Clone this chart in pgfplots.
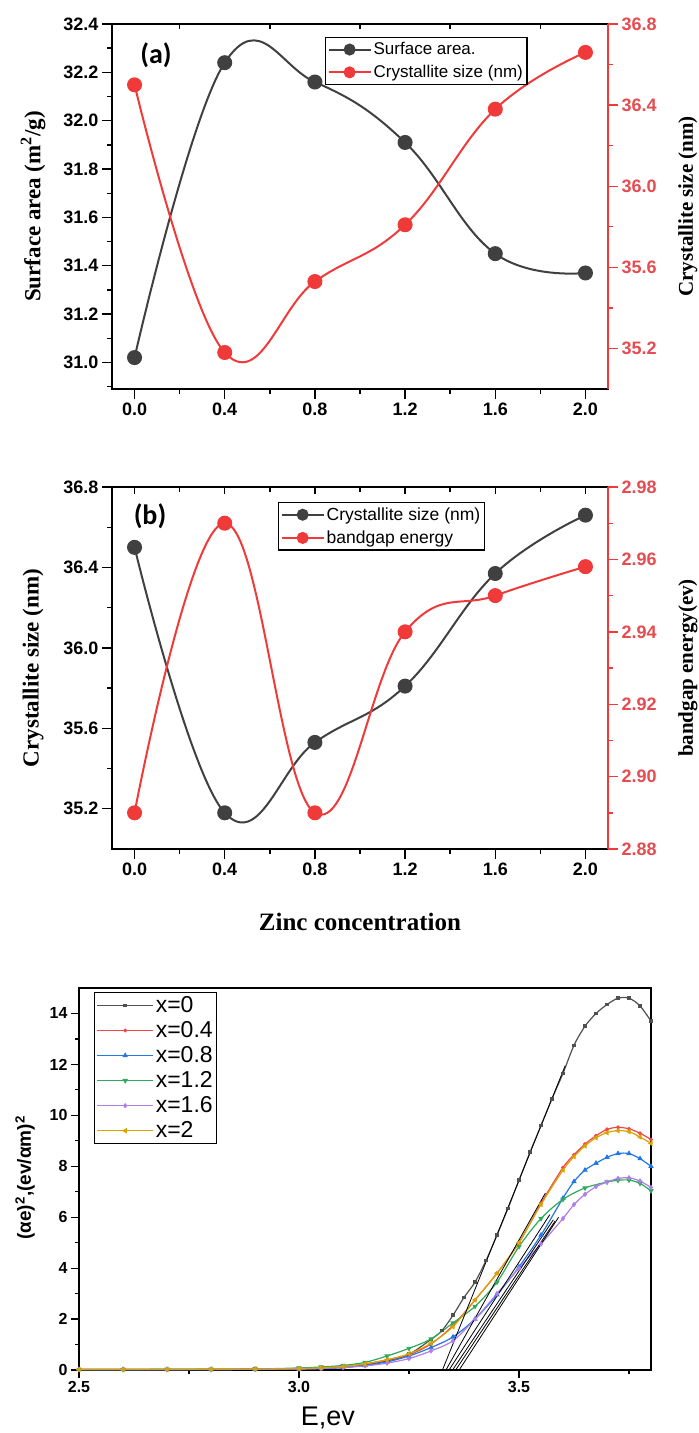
\documentclass[border=0pt]{standalone}
\usepackage{fontspec}
\setmainfont{Liberation Serif}
\newfontfamily\arial{Liberation Sans}
\newfontfamily\calib{Carlito}
\usepackage{pgfplots}
\pgfplotsset{compat=1.18}
\definecolor{dk}{HTML}{404040}
\definecolor{rd}{HTML}{F03A3A}
\definecolor{rdt}{HTML}{E64B50}
\definecolor{c0}{HTML}{505050}
\definecolor{c1}{HTML}{F2474A}
\definecolor{c2}{HTML}{2277E6}
\definecolor{c3}{HTML}{2EAA5E}
\definecolor{c4}{HTML}{B07EE8}
\definecolor{c5}{HTML}{D9A300}
\newcommand\tickfont{\arial\bfseries\fontsize{18}{18}\selectfont}
\newcommand\labfont{\bfseries\fontsize{23}{23}\selectfont}
\newcommand\rlabfont{\bfseries\fontsize{21}{21}\selectfont}
\newcommand\zincfont{\bfseries\fontsize{25}{25}\selectfont}
\pgfplotsset{
  /pgf/number format/assume math mode=true,
  twin/.style={scale only axis, width=496pt, xmin=-0.1, xmax=2.1,
    tick label style={font=\tickfont},
    xticklabel style={/pgf/number format/.cd, fixed, fixed zerofill, precision=1},
    major tick length=10pt, minor tick length=5pt,
    tick style={line width=1.4pt, black},
    axis line style={line width=1.5pt},
    tick align=outside},
  blk/.style={dk, line width=2pt, smooth, tension=0.7, mark=*, mark size=6.5pt, mark options={fill=dk, draw=dk}},
  rdl/.style={rd, line width=2pt, smooth, tension=0.7, mark=*, mark size=6.5pt, mark options={fill=rd, draw=rd}},
  toptick/.style={scale only axis, width=496pt, xmin=-0.1, xmax=2.1, ymin=0, ymax=1,
    hide y axis, axis x line*=top, xticklabels={}, tick align=inside,
    tick style={line width=1.4pt, black}, axis line style={line width=1.5pt,-}},
}
\begin{document}
\begin{tikzpicture}[x=1pt,y=1pt]
\useasboundingbox (0,0) rectangle (699,-1433);
%%%%%%%%%%%%%%%% panel (a)
\begin{axis}[twin, at={(112pt,-389pt)}, anchor=south west, height=365pt,
  ymin=30.89, ymax=32.4,
  xtick={0,0.4,0.8,1.2,1.6,2.0}, minor xtick={0.2,0.6,1.0,1.4,1.8},
  ytick={31.0,31.2,31.4,31.6,31.8,32.0,32.2,32.4},
  minor ytick={30.9,31.1,31.3,31.5,31.7,31.9,32.1,32.3},
  yticklabel style={/pgf/number format/.cd, fixed, fixed zerofill, precision=1},
  xtick pos=bottom, ytick pos=left,
  ylabel={Surface area (m\textsuperscript{2}/g)},
  every axis y label/.style={at={(axis description cs:-0.159,0.5)}, anchor=center, rotate=90, font=\labfont},
]
\addplot[blk] coordinates {(0,31.02) (0.4,32.24) (0.8,32.16) (1.2,31.91) (1.6,31.45) (2.0,31.37)};
\node[font=\calib\bfseries\fontsize{28}{28}\selectfont] at (axis description cs:0.0887,0.915) {(a)};
\end{axis}
\begin{axis}[toptick, at={(112pt,-389pt)}, anchor=south west, height=365pt,
  xtick={0.2,0.6,1.0,1.4,1.8}, major tick length=5pt]
\addplot[draw=none] coordinates {(0,0.5)};
\end{axis}
\begin{axis}[twin, at={(112pt,-389pt)}, anchor=south west, height=365pt,
  ymin=35.0, ymax=36.8, axis x line=none, axis y line*=right,
  ytick={35.2,35.6,36.0,36.4,36.8}, minor ytick={35.4,35.8,36.2,36.6},
  yticklabel style={rdt, /pgf/number format/.cd, fixed, fixed zerofill, precision=1},
  tick style={line width=1.4pt, rd},
  axis line style={line width=1.5pt, rd, -},
  ylabel={Crystallite size (nm)},
  every axis y label/.style={at={(axis description cs:1.161,0.5)}, anchor=center, rotate=90, font=\rlabfont},
  legend style={at={(axis description cs:0.4294,0.9644)}, anchor=north west, draw=black, line width=1.3pt,
    font=\arial\fontsize{17}{17}\selectfont, inner xsep=2pt, inner ysep=3pt, row sep=5pt},
  legend cell align=left,
  legend image code/.code={\draw[mark repeat=2,mark phase=2,#1,mark size=5pt] plot coordinates {(0pt,0pt) (21pt,0pt) (42pt,0pt)};},
]
\addlegendimage{blk}
\addlegendentry{Surface area.}
\addplot[rdl] coordinates {(0,36.50) (0.4,35.18) (0.8,35.53) (1.2,35.81) (1.6,36.38) (2.0,36.66)};
\addlegendentry{ Crystallite size (nm)}
\end{axis}
%%%%%%%%%%%%%%%% panel (b)
\begin{axis}[twin, at={(112pt,-849pt)}, anchor=south west, height=362pt,
  ymin=35.0, ymax=36.8,
  xtick={0,0.4,0.8,1.2,1.6,2.0}, minor xtick={0.2,0.6,1.0,1.4,1.8},
  ytick={35.2,35.6,36.0,36.4,36.8}, minor ytick={35.4,35.8,36.2,36.6},
  yticklabel style={/pgf/number format/.cd, fixed, fixed zerofill, precision=1},
  xtick pos=bottom, ytick pos=left,
  ylabel={Crystallite size (nm)},
  every axis y label/.style={at={(axis description cs:-0.159,0.5)}, anchor=center, rotate=90, font=\labfont},
  xlabel={Zinc concentration},
  every axis x label/.style={at={(axis description cs:0.5,-0.2017)}, anchor=center, font=\zincfont},
]
\addplot[blk] coordinates {(0,36.50) (0.4,35.18) (0.8,35.53) (1.2,35.81) (1.6,36.37) (2.0,36.66)};
\node[font=\calib\bfseries\fontsize{28}{28}\selectfont] at (axis description cs:0.0766,0.92) {(b)};
\end{axis}
\begin{axis}[toptick, at={(112pt,-849pt)}, anchor=south west, height=362pt,
  xtick={0,0.4,0.8,1.2,1.6,2.0}, minor xtick={0.2,0.6,1.0,1.4,1.8},
  major tick length=7pt, minor tick length=5pt]
\addplot[draw=none] coordinates {(0,0.5)};
\end{axis}
\begin{axis}[twin, at={(112pt,-849pt)}, anchor=south west, height=362pt,
  ymin=2.88, ymax=2.98, axis x line=none, axis y line*=right,
  ytick={2.88,2.90,2.92,2.94,2.96,2.98}, minor ytick={2.89,2.91,2.93,2.95,2.97},
  yticklabel style={rdt, /pgf/number format/.cd, fixed, fixed zerofill, precision=2},
  tick style={line width=1.4pt, rd},
  axis line style={line width=1.5pt, rd, -},
  ylabel={bandgap energy(ev)},
  every axis y label/.style={at={(axis description cs:1.161,0.5)}, anchor=center, rotate=90, font=\rlabfont},
  legend style={at={(axis description cs:0.3347,0.9586)}, anchor=north west, draw=black, line width=1.3pt,
    font=\arial\fontsize{17.5}{17.5}\selectfont, inner xsep=2pt, inner ysep=3pt, row sep=5pt},
  legend cell align=left,
  legend image code/.code={\draw[mark repeat=2,mark phase=2,#1,mark size=5pt] plot coordinates {(0pt,0pt) (21pt,0pt) (42pt,0pt)};},
]
\addlegendimage{blk}
\addlegendentry{ Crystallite size (nm)}
\addplot[rdl] coordinates {(0,2.890) (0.4,2.970) (0.8,2.890) (1.2,2.940) (1.6,2.950) (2.0,2.958)};
\addlegendentry{bandgap energy}
\end{axis}
%%%%%%%%%%%%%%%% panel (c)
\begin{axis}[scale only axis, at={(79pt,-1370pt)}, anchor=south west, width=572pt, height=382pt,
  xmin=2.5, xmax=3.8, ymin=0, ymax=15,
  xtick={2.5,3.0,3.5}, minor xtick={2.75,3.25,3.75},
  ytick={0,2,4,6,8,10,12,14}, minor ytick={1,3,5,7,9,11,13},
  xtick pos=bottom, ytick pos=left, tick align=outside,
  major tick length=8pt, minor tick length=4pt,
  tick style={line width=1.2pt, black}, axis line style={line width=1.2pt},
  tick label style={font=\arial\bfseries\fontsize{16}{16}\selectfont},
  xticklabel style={/pgf/number format/.cd, fixed, fixed zerofill, precision=1},
  xlabel={E,ev}, ylabel={(αe)\textsuperscript{2},(ev/αm)\textsuperscript{2}},
  every axis x label/.style={at={(axis description cs:0.435,-0.1257)}, anchor=center, font=\arial\fontsize{27}{27}\selectfont},
  every axis y label/.style={at={(axis description cs:-0.0944,0.503)}, anchor=center, rotate=90, font=\arial\bfseries\fontsize{19}{19}\selectfont},
  legend style={at={(axis description cs:0.0262,0.9895)}, anchor=north west, draw=black, line width=1.2pt,
    font=\arial\fontsize{23}{23}\selectfont, inner xsep=2pt, inner ysep=2pt, row sep=3.5pt},
  legend cell align=left,
  legend image code/.code={\draw[mark repeat=2,mark phase=2,#1] plot coordinates {(0pt,0pt) (28pt,0pt) (56pt,0pt)};},
  every axis plot/.append style={line width=1.2pt, smooth, tension=0.5},
]
\addplot[c0, mark=square*, mark size=1.2pt] coordinates {(2.5,0.02)(2.6,0.02)(2.7,0.02)(2.8,0.02)(2.9,0.03)(3.0,0.04)(3.05,0.06)(3.1,0.1)(3.15,0.2)(3.2,0.36)(3.25,0.62)(3.3,1.2)(3.325,1.55)(3.35,2.15)(3.375,2.85)(3.4,3.45)(3.425,4.3)(3.45,5.3)(3.475,6.35)(3.5,7.45)(3.525,8.55)(3.55,9.6)(3.575,10.65)(3.6,11.65)(3.625,12.75)(3.65,13.5)(3.675,14.0)(3.7,14.35)(3.725,14.6)(3.75,14.6)(3.775,14.3)(3.8,13.7)};
\addlegendentry{x=0}
\addplot[c1, mark=*, mark size=1.3pt] coordinates {(2.5,0.02)(2.6,0.02)(2.7,0.02)(2.8,0.03)(2.9,0.04)(3.0,0.06)(3.05,0.09)(3.1,0.14)(3.15,0.24)(3.2,0.4)(3.25,0.6)(3.3,1.02)(3.35,1.75)(3.4,2.75)(3.45,3.8)(3.5,5.0)(3.55,6.55)(3.6,7.95)(3.625,8.45)(3.65,8.87)(3.675,9.2)(3.7,9.45)(3.725,9.53)(3.75,9.47)(3.775,9.3)(3.8,9.05)};
\addlegendentry{x=0.4}
\addplot[c2, mark=triangle*, mark size=2pt] coordinates {(2.5,0.02)(2.6,0.02)(2.7,0.02)(2.8,0.02)(2.9,0.03)(3.0,0.04)(3.05,0.06)(3.1,0.1)(3.15,0.18)(3.2,0.32)(3.25,0.55)(3.3,0.88)(3.35,1.3)(3.4,2.0)(3.45,2.95)(3.5,4.05)(3.55,5.3)(3.6,6.75)(3.625,7.4)(3.65,7.85)(3.675,8.12)(3.7,8.35)(3.725,8.5)(3.75,8.5)(3.775,8.3)(3.8,8.0)};
\addlegendentry{x=0.8}
\addplot[c3, mark=triangle*, mark options={rotate=180}, mark size=2pt] coordinates {(2.5,0.02)(2.6,0.02)(2.7,0.03)(2.8,0.03)(2.9,0.04)(3.0,0.08)(3.05,0.12)(3.1,0.18)(3.15,0.3)(3.2,0.55)(3.25,0.85)(3.3,1.22)(3.35,1.85)(3.4,2.5)(3.45,3.45)(3.5,4.85)(3.55,5.95)(3.6,6.7)(3.65,7.15)(3.7,7.38)(3.725,7.45)(3.75,7.46)(3.775,7.33)(3.8,7.04)};
\addlegendentry{x=1.2}
\addplot[c4, mark=diamond*, mark size=1.8pt] coordinates {(2.5,0.02)(2.6,0.02)(2.7,0.02)(2.8,0.02)(2.9,0.03)(3.0,0.04)(3.05,0.06)(3.1,0.1)(3.15,0.16)(3.2,0.27)(3.25,0.45)(3.3,0.75)(3.35,1.15)(3.4,2.0)(3.45,3.0)(3.5,4.0)(3.55,4.95)(3.6,5.95)(3.625,6.5)(3.65,6.9)(3.675,7.2)(3.7,7.38)(3.725,7.52)(3.75,7.55)(3.775,7.42)(3.8,7.17)};
\addlegendentry{x=1.6}
\addplot[c5, mark=triangle*, mark options={rotate=90}, mark size=2pt] coordinates {(2.5,0.02)(2.6,0.02)(2.7,0.02)(2.8,0.03)(2.9,0.04)(3.0,0.06)(3.05,0.09)(3.1,0.14)(3.15,0.24)(3.2,0.4)(3.25,0.64)(3.3,1.05)(3.35,1.7)(3.4,2.75)(3.45,3.8)(3.5,5.0)(3.55,6.5)(3.6,7.85)(3.625,8.38)(3.65,8.8)(3.675,9.12)(3.7,9.32)(3.725,9.4)(3.75,9.36)(3.775,9.15)(3.8,8.9)};
\addlegendentry{x=2}
\addplot[black, line width=0.8pt, no marks, forget plot] coordinates {(3.326,0) (3.605,11.95)};
\addplot[black, line width=0.8pt, no marks, forget plot] coordinates {(3.334,0) (3.56,6.95)};
\addplot[black, line width=0.8pt, no marks, forget plot] coordinates {(3.341,0) (3.57,6.1)};
\addplot[black, line width=0.8pt, no marks, forget plot] coordinates {(3.349,0) (3.578,5.9)};
\addplot[black, line width=0.8pt, no marks, forget plot] coordinates {(3.356,0) (3.582,5.85)};
\addplot[black, line width=0.8pt, no marks, forget plot] coordinates {(3.364,0) (3.59,6.0)};
\end{axis}
\end{tikzpicture}
\end{document}
